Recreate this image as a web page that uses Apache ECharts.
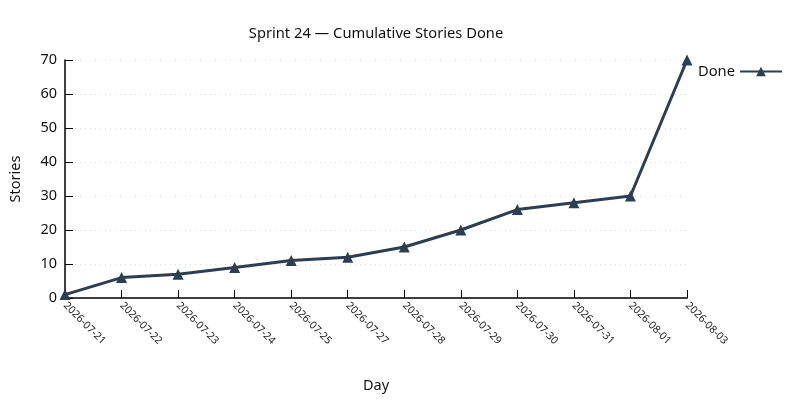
<!DOCTYPE html>
<html>
<head>
<meta charset="utf-8">
<script src="https://cdn.jsdelivr.net/npm/echarts@6/dist/echarts.min.js"></script>
<style>
  html, body { margin: 0; padding: 0; background: #fff; }
  #chart { width: 800px; height: 400px; }
</style>
</head>
<body>
<div id="chart"></div>
<script>
var days = ['2026-07-21', '2026-07-22', '2026-07-23', '2026-07-24', '2026-07-25', '2026-07-27',
            '2026-07-28', '2026-07-29', '2026-07-30', '2026-07-31', '2026-08-01', '2026-08-03'];
var doneValues = [1, 6, 7, 9, 11, 12, 15, 20, 26, 28, 30, 70];
var yTicks = [0, 10, 20, 30, 40, 50, 60, 70];

var chart = echarts.init(document.getElementById('chart'));
var font = 'Noto Sans';
var option = {
    animation: false,
    textStyle: { fontFamily: font },
    title: {
        text: 'Sprint 24 — Cumulative Stories Done',
        left: 371,
        textAlign: 'center',
        top: 21,
        textStyle: { fontFamily: font, fontSize: 14.7, fontWeight: 'normal', color: '#111' }
    },
    legend: {
        data: ['Done'],
        left: 693,
        top: 59,
        align: 'right',
        itemWidth: 42,
        itemHeight: 12,
        itemGap: 6,
        textStyle: { fontFamily: font, fontSize: 14.7, color: '#111' }
    },
    grid: { left: 64, right: 113, top: 60, bottom: 102 },
    xAxis: {
        type: 'category',
        data: days,
        boundaryGap: false,
        name: 'Day',
        nameLocation: 'middle',
        nameGap: 80,
        nameTextStyle: { fontFamily: font, fontSize: 14.5, color: '#111' },
        axisLine: { lineStyle: { color: '#000', width: 1.5 } },
        axisTick: { inside: true, length: 8, alignWithLabel: true, lineStyle: { color: '#000' } },
        axisLabel: { rotate: -45, fontSize: 10.5, color: '#222', margin: 6, interval: 0 },
        splitLine: { show: false }
    },
    yAxis: {
        type: 'value',
        min: 0,
        max: yTicks[yTicks.length - 1],
        interval: 10,
        name: 'Stories',
        nameLocation: 'middle',
        nameGap: 42,
        nameTextStyle: { fontFamily: font, fontSize: 14.5, color: '#111' },
        axisLine: { show: true, lineStyle: { color: '#000', width: 1.5 } },
        axisTick: { show: true, inside: true, length: 8, lineStyle: { color: '#000' } },
        axisLabel: { fontSize: 14.5, color: '#111', margin: 8 },
        splitLine: { show: true, lineStyle: { color: '#ddd', type: [1, 4], width: 1 } }
    },
    series: [{
        name: 'Done',
        type: 'line',
        data: doneValues,
        symbol: 'triangle',
        symbolSize: 11,
        lineStyle: { color: '#2c3e50', width: 3 },
        itemStyle: { color: '#2c3e50' }
    }]
};
chart.setOption(option);
</script>
</body>
</html>
